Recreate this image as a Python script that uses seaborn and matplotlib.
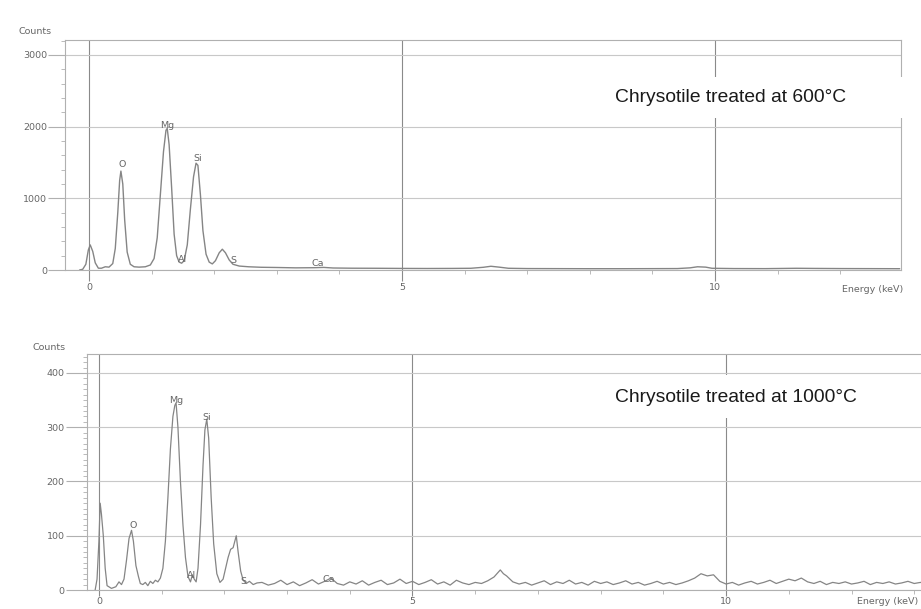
import matplotlib
matplotlib.use('Agg')
import matplotlib.pyplot as plt
from matplotlib.patches import Rectangle
from matplotlib.ticker import FixedLocator, MultipleLocator
import seaborn as sns

sns.set_theme(style='white')
plt.rcParams['font.family'] = ['Liberation Sans', 'DejaVu Sans']

# ── Spectrum 1: chrysotile treated at 600 °C ─────────────────────────────────
top_energy = [-0.15, -0.1, -0.05, -0.01, 0.02, 0.06, 0.1, 0.15, 0.2, 0.26, 0.32,
              0.38, 0.42, 0.46, 0.49, 0.51, 0.54, 0.57, 0.61, 0.66, 0.72, 0.8,
              0.9, 0.98, 1.04, 1.09, 1.14, 1.19, 1.23, 1.25, 1.28, 1.32, 1.36,
              1.4, 1.44, 1.48, 1.52, 1.57, 1.62, 1.67, 1.71, 1.74, 1.78, 1.82,
              1.87, 1.92, 1.97, 2.02, 2.08, 2.13, 2.18, 2.24, 2.3, 2.4, 2.55,
              2.75, 3.0, 3.3, 3.6, 3.75, 3.9, 4.2, 4.6, 5.0, 5.4, 5.8, 6.1, 6.3,
              6.42, 6.55, 6.7, 7.0, 7.5, 8.0, 8.5, 9.0, 9.4, 9.6, 9.72, 9.85,
              9.95, 10.3, 10.8, 11.3, 11.6, 12.0, 12.5, 12.95]
top_counts = [0, 10, 80, 280, 350, 260, 100, 25, 25, 45, 40,
              90, 300, 800, 1250, 1380, 1200, 700, 250, 80, 45, 40,
              45, 70, 160, 450, 1050, 1650, 1950, 1975, 1750, 1150, 500,
              200, 110, 95, 130, 350, 850, 1300, 1490, 1460, 1050, 550,
              220, 110, 85, 130, 240, 290, 240, 140, 80, 55, 45,
              38, 35, 30, 32, 36, 28, 25, 24, 22, 21, 22, 24, 38,
              52, 40, 24, 20, 19, 18, 18, 19, 20, 30, 45, 40,
              24, 20, 19, 24, 22, 20, 19, 18]

# ── Spectrum 2: chrysotile treated at 1000 °C ────────────────────────────────
bot_energy = [-0.06, -0.03, 0.0, 0.02, 0.04, 0.07, 0.1, 0.13, 0.2, 0.27, 0.32,
              0.36, 0.4, 0.44, 0.48, 0.52, 0.55, 0.59, 0.63, 0.66, 0.7, 0.74,
              0.78, 0.82, 0.86, 0.9, 0.94, 0.98, 1.02, 1.06, 1.1, 1.14, 1.18,
              1.21, 1.23, 1.26, 1.3, 1.34, 1.38, 1.42, 1.46, 1.49, 1.52, 1.55,
              1.58, 1.62, 1.66, 1.69, 1.72, 1.75, 1.79, 1.83, 1.88, 1.93, 1.98,
              2.02, 2.06, 2.1, 2.14, 2.19, 2.22, 2.26, 2.3, 2.35, 2.4, 2.46,
              2.52, 2.6, 2.7, 2.8, 2.9, 3.0, 3.1, 3.2, 3.3, 3.4, 3.5, 3.6, 3.7,
              3.8, 3.9, 4.0, 4.1, 4.2, 4.3, 4.4, 4.5, 4.6, 4.7, 4.8, 4.9, 5.0,
              5.1, 5.2, 5.3, 5.4, 5.5, 5.6, 5.7, 5.8, 5.9, 6.0, 6.1, 6.2, 6.3,
              6.4, 6.45, 6.5, 6.6, 6.7, 6.8, 6.9, 7.0, 7.1, 7.2, 7.3, 7.4, 7.5,
              7.6, 7.7, 7.8, 7.9, 8.0, 8.1, 8.2, 8.3, 8.4, 8.5, 8.6, 8.7, 8.8,
              8.9, 9.0, 9.1, 9.2, 9.3, 9.4, 9.5, 9.6, 9.7, 9.8, 9.9, 10.0, 10.1,
              10.2, 10.3, 10.4, 10.5, 10.6, 10.7, 10.8, 10.9, 11.0, 11.1, 11.2,
              11.3, 11.4, 11.5, 11.6, 11.7, 11.8, 11.9, 12.0, 12.1, 12.2, 12.3,
              12.4, 12.5, 12.6, 12.7, 12.8, 12.9, 13.0, 13.1, 13.2, 13.3, 13.4,
              13.5, 13.6]
bot_counts = [0, 20, 90, 160, 140, 100, 40, 8, 3, 6, 15,
              10, 20, 55, 95, 110, 90, 45, 25, 12, 10, 14,
              8, 16, 12, 18, 15, 22, 40, 90, 170, 260, 320,
              340, 345, 300, 200, 120, 60, 25, 15, 28, 20, 15,
              40, 120, 230, 295, 315, 280, 170, 85, 30, 14, 20,
              40, 60, 75, 78, 100, 70, 35, 18, 12, 16, 10,
              13, 14, 9, 12, 18, 10, 15, 8, 13, 19, 11, 16, 22,
              12, 9, 15, 11, 17, 9, 14, 18, 10, 13, 20, 12, 16,
              10, 14, 19, 11, 15, 9, 18, 13, 10, 14, 12, 17, 24,
              37, 30, 26, 15, 11, 14, 9, 13, 17, 10, 15, 12, 18,
              11, 14, 9, 16, 12, 15, 10, 13, 17, 11, 14, 9, 12,
              16, 11, 14, 10, 13, 17, 22, 30, 26, 28, 16, 11, 14,
              9, 13, 16, 11, 14, 18, 12, 16, 20, 17, 22,
              15, 12, 16, 10, 14, 12, 15, 11, 13, 16, 10,
              14, 12, 15, 11, 13, 16, 12, 14, 11, 13, 15,
              12, 13]

# ── Peak labels ──────────────────────────────────────────────────────────────
top_lines = ['O', 'Mg', 'Si', 'Al', 'S', 'Ca']
top_line_kev = [0.53, 1.25, 1.74, 1.5, 2.3, 3.66]
top_line_counts = [1470, 2020, 1557, 140, 126, 84]

bot_lines = ['O', 'Mg', 'Si', 'Al', 'S', 'Ca']
bot_line_kev = [0.54, 1.23, 1.72, 1.48, 2.31, 3.67]
bot_line_counts = [118, 350, 318, 26, 15, 20]

TITLES = ['Chrysotile treated at 600°C', 'Chrysotile treated at 1000°C']

W, H = 921, 609
GREY_TXT = '#666666'
SMALL = dict(family='DejaVu Sans', fontsize=6.8, color=GREY_TXT)

fig = plt.figure(figsize=(W / 100, H / 100), dpi=100)


def px_axes(left, right, top, bottom):
    return fig.add_axes([left / W, 1 - bottom / H, (right - left) / W, (bottom - top) / H])


def style_panel(ax, xlim, ylim, ymajor, yminor, yticklen, xticklen):
    ax.set_xlim(*xlim)
    ax.set_ylim(*ylim)
    ax.xaxis.set_major_locator(FixedLocator([0, 5, 10]))
    ax.xaxis.set_minor_locator(MultipleLocator(1))
    ax.yaxis.set_major_locator(MultipleLocator(ymajor))
    ax.yaxis.set_minor_locator(MultipleLocator(yminor))
    ax.grid(axis='y', which='major', color='#c8c8c8', lw=0.8)
    ax.grid(axis='x', which='major', color='#8a8a8a', lw=0.8)
    ax.tick_params(axis='y', which='major', left=True, length=yticklen, width=0.8,
                   color='#b0b0b0', pad=1, labelsize=6.8, labelcolor=GREY_TXT)
    ax.tick_params(axis='y', which='minor', left=True, length=3, width=0.6, color='#b0b0b0')
    ax.tick_params(axis='x', which='major', bottom=True, length=xticklen, width=0.8,
                   color='#8a8a8a', pad=1, labelsize=6.8, labelcolor=GREY_TXT)
    ax.tick_params(axis='x', which='minor', bottom=True, length=3, width=0.6, color='#b0b0b0')
    for lab in ax.get_xticklabels() + ax.get_yticklabels():
        lab.set_family('DejaVu Sans')
    for sp in ax.spines.values():
        sp.set_color('#b0b0b0')
        sp.set_linewidth(0.8)
    ax.set_xlabel('')
    ax.set_ylabel('')


# ── Top panel ────────────────────────────────────────────────────────────────
ax1 = px_axes(65, 901, 40, 270)
sns.lineplot(x=top_energy, y=top_counts, ax=ax1, color='#858585', linewidth=1.0,
             estimator=None, sort=False)
style_panel(ax1, (-0.383, 12.97), (0, 3209), 1000, 200, 12, 8)
for lab, e, c in zip(top_lines, top_line_kev, top_line_counts):
    ax1.text(e, c, lab, ha='center', va='center', **SMALL)

# ── Bottom panel (runs off the right edge, as in the scan) ───────────────────
ax2 = px_axes(87, 960, 354, 590)
sns.lineplot(x=bot_energy, y=bot_counts, ax=ax2, color='#858585', linewidth=0.9,
             estimator=None, sort=False)
style_panel(ax2, (-0.19, 13.73), (0, 435), 100, 10, 15, 4)
for lab, e, c in zip(bot_lines, bot_line_kev, bot_line_counts):
    ax2.text(e, c, lab, ha='center', va='center', **SMALL)

# axis captions
fig.text(35 / W, 1 - 32 / H, 'Counts', ha='center', va='center', **SMALL)
fig.text(49 / W, 1 - 348 / H, 'Counts', ha='center', va='center', **SMALL)
fig.text(903 / W, 1 - 289 / H, 'Energy (keV)', ha='right', va='center', **SMALL)
fig.text(918 / W, 1 - 602 / H, 'Energy (keV)', ha='right', va='center', **SMALL)

# white label boxes pasted over the grid
for (x0, x1, y0, y1), title, ty in zip([(597, 908, 77, 118), (597, 925, 375, 418)],
                                       TITLES, [97, 398]):
    fig.add_artist(Rectangle((x0 / W, 1 - y1 / H), (x1 - x0) / W, (y1 - y0) / H,
                             transform=fig.transFigure, facecolor='white',
                             edgecolor='none', zorder=5))
    fig.text(615 / W, 1 - ty / H, title, ha='left', va='center',
             fontsize=13.9, color='#1a1a1a', family='Liberation Sans', zorder=6)

fig.savefig('out.png', dpi=100, facecolor='white')
